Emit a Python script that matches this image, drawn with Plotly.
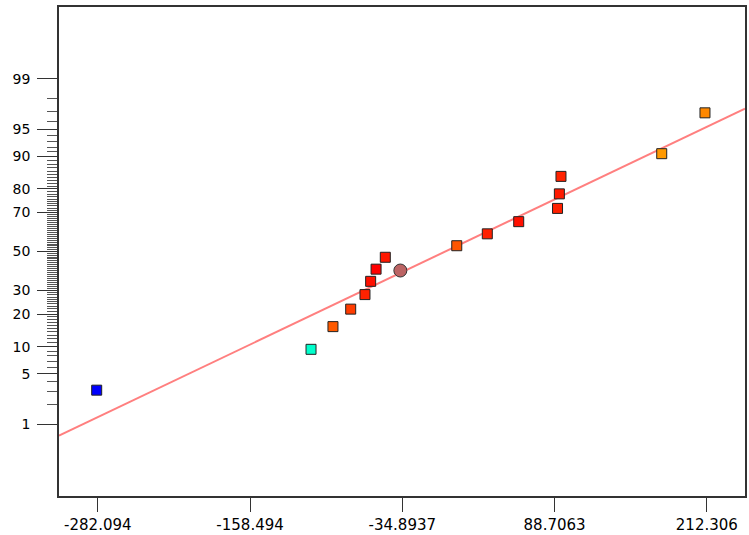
from statistics import NormalDist
import plotly.graph_objects as go

# ---- data ----
effect_x = [-283.0, -109.0, -91.2, -76.8, -65.2, -60.6, -56.2, -48.7,
            9.3, 34.1, 59.6, 91.1, 92.6, 93.9, 175.7, 210.8]
normal_pct = [3.1, 9.4, 15.6, 21.9, 28.1, 34.4, 40.6, 46.9,
              53.1, 59.4, 65.6, 71.9, 78.1, 84.4, 90.6, 96.9]
point_colors = ["#0000FF", "#00FFCC", "#FF5A00", "#FF3C00", "#FF2200", "#FF1000",
                "#FF0000", "#FF1800", "#FF5500", "#FF2000", "#FF1000", "#FF2000",
                "#FF1A00", "#FF2200", "#FF9900", "#FF8800"]
circle_x = [-36.5]
circle_pct = [39.9]
fit_mean = 0.0
fit_sd = 126.5

x_tickvals = [-282.094, -158.494, -34.8937, 88.7063, 212.306]
x_ticktext = ["-282.094", "-158.494", "-34.8937", "88.7063", "212.306"]
y_tick_pct = [1, 5, 10, 20, 30, 50, 70, 80, 90, 95, 99]
x_range = [-313.6, 243.3]
y_range_pct = [0.05, 99.95]

nd = NormalDist()
def z(p):
    return nd.inv_cdf(p / 100.0)

fig = go.Figure()

# fitted line
line_x = list(x_range)
line_z = [(v - fit_mean) / fit_sd for v in line_x]
fig.add_trace(go.Scatter(x=line_x, y=line_z, mode="lines",
                         line=dict(color="#FF7F7F", width=2),
                         hoverinfo="skip", showlegend=False))

fig.add_trace(go.Scatter(x=effect_x, y=[z(p) for p in normal_pct], mode="markers",
                         marker=dict(symbol="square", size=10, color=point_colors,
                                     line=dict(color="#222222", width=1)),
                         showlegend=False))

fig.add_trace(go.Scatter(x=circle_x, y=[z(p) for p in circle_pct], mode="markers",
                         marker=dict(symbol="circle", size=13, color="#BC6464",
                                     line=dict(color="#333333", width=1)),
                         showlegend=False))

minor_vals = [z(p) for p in range(2, 99) if p not in y_tick_pct]

fig.update_layout(
    width=749, height=535,
    margin=dict(l=59, r=4, t=7, b=39, autoexpand=False),
    paper_bgcolor="white", plot_bgcolor="white",
    font=dict(family="DejaVu Sans, Arial, sans-serif", color="black"),
    xaxis=dict(range=x_range, tickmode="array", tickvals=x_tickvals, ticktext=x_ticktext,
               ticks="outside", ticklen=14, tickwidth=1, tickcolor="#333333",
               showline=True, linecolor="#333333", linewidth=1.5, mirror=True,
               showgrid=False, zeroline=False, tickfont=dict(size=15)),
    yaxis=dict(range=[z(y_range_pct[0]), z(y_range_pct[1])], tickmode="array",
               tickvals=[z(p) for p in y_tick_pct], ticktext=[str(p) for p in y_tick_pct],
               ticks="outside", ticklen=20, tickwidth=1, tickcolor="#333333",
               showline=True, linecolor="#333333", linewidth=1.5, mirror=True,
               showgrid=False, zeroline=False, tickfont=dict(size=14),
               ticklabelstandoff=4,
               minor=dict(tickmode="array", tickvals=minor_vals, ticks="outside",
                          ticklen=10, tickwidth=1, tickcolor="#555555", showgrid=False)),
)

fig.write_html("out.html", config={"displayModeBar": False},
               post_script="document.body.style.margin='0';document.body.style.overflow='hidden';")
